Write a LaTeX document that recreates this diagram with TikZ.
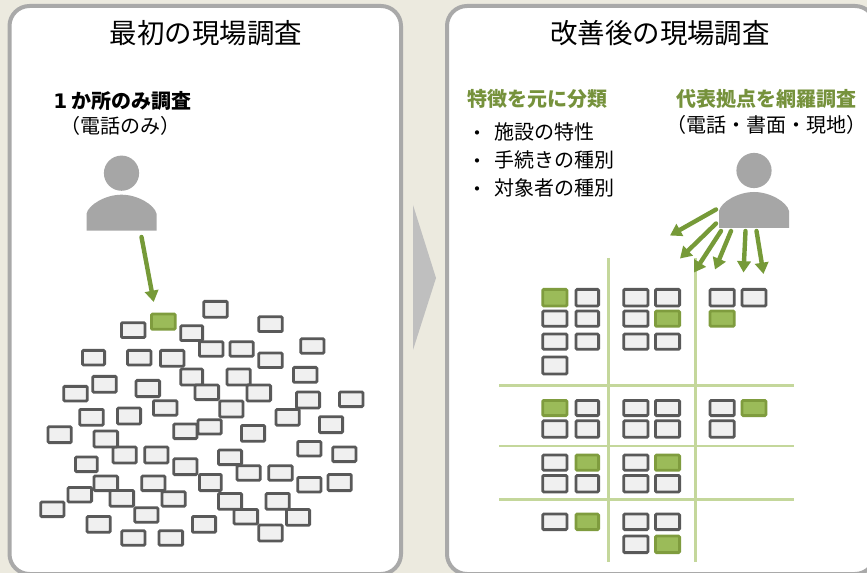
\documentclass[tikz,border=0pt]{standalone}
\usepackage{fontspec}
\usetikzlibrary{arrows.meta}
\setmainfont{Noto Sans CJK JP}
\newfontfamily\ltn{DejaVu Sans}
\definecolor{bgc}{HTML}{ECEADF}
\definecolor{panelc}{HTML}{A9A9A9}
\definecolor{chev}{HTML}{BFBFBF}
\definecolor{pers}{HTML}{A6A6A6}
\definecolor{arrc}{HTML}{769A38}
\definecolor{headc}{HTML}{76923C}
\definecolor{gridc}{HTML}{C4D79B}
\definecolor{boxf}{HTML}{F0F0F0}
\definecolor{boxd}{HTML}{595959}
\definecolor{grnf}{HTML}{9BBB59}
\definecolor{grnd}{HTML}{7F9C3E}
\tikzset{
  panel/.style={draw=panelc,line width=3pt,fill=white,rounded corners=15pt},
  gbox/.style={draw=boxd,fill=boxf,line width=2.1pt,rounded corners=0.8pt,inner sep=0pt,outer sep=0pt},
  sbox/.style={draw=grnd,fill=grnf,line width=2.1pt,rounded corners=0.8pt,inner sep=0pt,outer sep=0pt},
  gridl/.style={draw=gridc,line width=1.9pt},
  garrow/.style={draw=arrc,line width=3.3pt,line cap=round,-{Triangle[width=10pt,length=8.5pt]},shorten >=0pt},
  ttl/.style={font=\fontsize{20.6pt}{24pt}\selectfont,text=black,inner sep=0pt},
  txt/.style={font=\fontsize{15pt}{18pt}\selectfont,text=black,inner sep=0pt},
  grnhead/.style={font=\fontsize{15pt}{18pt}\selectfont\bfseries,text=headc,inner sep=0pt},
  pics/person/.style={code={
    \fill[pers] (0,-57.5) circle (17.6);
    \fill[pers] (-35,0) -- (-35,-17) .. controls (-33,-26) and (-16,-36) .. (0,-36)
      .. controls (16,-36) and (33,-26) .. (35,-17) -- (35,0) -- cycle;
  }}
}
\begin{document}
\begin{tikzpicture}[x=0.75pt,y=-0.75pt]
\useasboundingbox (0,0) rectangle (867,573);
\fill[bgc] (0,0) rectangle (867,573);
\begin{scope}
\clip (0,0) rectangle (867,573);
\draw[panel] (9.5,6) rectangle (401,574);
\draw[panel] (447,6) rectangle (875,574);
\end{scope}
\fill[chev] (413,205) -- (436,278) -- (413,350) -- cycle;

\node[ttl] (t1) at (206,33) {最初の現場調査};
\node[ttl] (t2) at (660,33) {改善後の現場調査};

\node[txt,font=\fontsize{15pt}{18pt}\selectfont\bfseries] (h1) at (122.5,101) {{\ltn 1} か所のみ調査};
\node[txt] (s1) at (120,126) {\makebox[15pt][r]{（}電話のみ\makebox[15pt][l]{）}};
\node[grnhead] (h2) at (537.5,99) {特徴を元に分類};
\node[grnhead] (h3) at (766.7,99) {代表拠点を網羅調査};
\node[txt] (s2) at (766.7,125) {\makebox[15pt][r]{（}電話・書面・現地\makebox[15pt][l]{）}};
\node[txt] (d1) at (477,135.5) {・};
\node[txt,anchor=west] (l1) at (494,131.5) {施設の特性};
\node[txt] (d2) at (477,163.5) {・};
\node[txt,anchor=west] (l2) at (494,159.5) {手続きの種別};
\node[txt] (d3) at (477,192) {・};
\node[txt,anchor=west] (l3) at (494,188) {対象者の種別};

\pic at (121.5,230.7) {person};
\pic at (754,228) {person};

% left cloud of boxes (coordinates read at 3x, offset y 280)
\newcommand{\lbox}[6]{%
  \node[#1,minimum width={(#4-#2)*0.25pt-2.1pt},minimum height={(#5-#3)*0.25pt-2.1pt}] (#6)
    at ({(#2+#4)/6},{280+(#3+#5)/6}) {};}
\lbox{gbox}{607}{60}{686}{116}{a1}
\lbox{gbox}{360}{124}{439}{177}{a3}
\lbox{gbox}{772}{106}{851}{159}{a4}
\lbox{gbox}{538}{133}{612}{186}{a5}
\lbox{gbox}{594}{181}{673}{233}{a6}
\lbox{gbox}{686}{181}{764}{233}{a7}
\lbox{gbox}{898}{172}{976}{224}{a8}
\lbox{gbox}{243}{207}{318}{259}{a9}
\lbox{gbox}{378}{207}{457}{259}{a10}
\lbox{gbox}{477}{207}{556}{263}{a11}
\lbox{gbox}{772}{215}{851}{267}{a12}
\lbox{gbox}{538}{263}{612}{319}{a13}
\lbox{gbox}{677}{263}{755}{319}{a14}
\lbox{gbox}{876}{258}{955}{311}{a15}
\lbox{gbox}{274}{285}{353}{341}{a16}
\lbox{gbox}{187}{315}{266}{367}{a17}
\lbox{gbox}{404}{297}{483}{354}{a18}
\lbox{gbox}{581}{311}{660}{363}{a19}
\lbox{gbox}{737}{311}{816}{367}{a20}
\lbox{gbox}{824}{384}{902}{440}{a27}
\lbox{gbox}{885}{332}{963}{388}{a21}
\lbox{gbox}{1014}{332}{1093}{384}{a22}
\lbox{gbox}{456}{358}{535}{410}{a23}
\lbox{gbox}{655}{359}{733}{415}{a24}
\lbox{gbox}{235}{384}{314}{440}{a25}
\lbox{gbox}{348}{380}{426}{436}{a26}
\lbox{gbox}{954}{406}{1032}{462}{a28}
\lbox{gbox}{517}{428}{595}{480}{a30}
\lbox{gbox}{590}{415}{668}{466}{a29}
\lbox{gbox}{720}{432}{798}{488}{a31}
\lbox{gbox}{140}{436}{218}{492}{a32}
\lbox{gbox}{335}{497}{413}{553}{a35}
\lbox{gbox}{278}{449}{357}{505}{a33}
\lbox{gbox}{889}{480}{967}{532}{a34}
\lbox{gbox}{430}{497}{508}{553}{a36}
\lbox{gbox}{994}{497}{1072}{549}{a37}
\lbox{gbox}{651}{506}{729}{558}{a38}
\lbox{gbox}{517}{532}{595}{588}{a39}
\lbox{gbox}{222}{527}{296}{579}{a40}
\lbox{gbox}{707}{553}{785}{605}{a41}
\lbox{gbox}{802}{553}{881}{605}{a42}
\lbox{gbox}{200}{618}{279}{670}{a48}
\lbox{gbox}{278}{584}{357}{636}{a43}
\lbox{gbox}{421}{584}{499}{636}{a44}
\lbox{gbox}{594}{579}{668}{636}{a45}
\lbox{gbox}{889}{588}{967}{640}{a46}
\lbox{gbox}{980}{579}{1058}{636}{a47}
\lbox{gbox}{326}{627}{405}{683}{a49}
\lbox{gbox}{482}{631}{560}{683}{a50}
\lbox{gbox}{698}{684}{777}{736}{a55}
\lbox{gbox}{651}{636}{729}{692}{a51}
\lbox{gbox}{794}{636}{872}{692}{a52}
\lbox{gbox}{118}{662}{196}{714}{a53}
\lbox{gbox}{400}{679}{478}{731}{a54}
\lbox{gbox}{855}{684}{933}{740}{a56}
\lbox{gbox}{257}{705}{335}{761}{a57}
\lbox{gbox}{573}{705}{651}{761}{a58}
\lbox{gbox}{772}{731}{851}{787}{a59}
\lbox{gbox}{361}{748}{439}{800}{a60}
\lbox{gbox}{473}{748}{552}{800}{a61}
\lbox{sbox}{450}{98}{530}{152}{a2}

% right grid
\coordinate (vt1) at (608.7,258); \coordinate (vb1) at (608.7,561.7);
\coordinate (vt2) at (695.3,258); \coordinate (vb2) at (695.3,561.7);
\coordinate (hl1) at (499,385.7); \coordinate (hr1) at (794,385.7);
\coordinate (hl2) at (499,446);   \coordinate (hr2) at (794,446);
\coordinate (hl3) at (499,499.3); \coordinate (hr3) at (794,499.3);
\draw[gridl] (hl1) -- (hr1);
\draw[gridl] (hl2) -- (hr2);
\draw[gridl] (hl3) -- (hr3);
\draw[gridl] (vt1) -- (vb1);
\draw[gridl] (vt2) -- (vb2);

% right boxes: columns A..F in 3x crop coordinates, offset (490,280)
\newcommand{\rbox}[6]{%
  \node[#1,minimum width={(#4-#2)*0.25pt-2.1pt},minimum height={(#5-#3)*0.25pt-2.1pt}] (#6)
    at ({490+(#2+#4)/6},{280+(#3+#5)/6}) {};}
\rbox{sbox}{154}{24}{235}{82}{r1}
\rbox{gbox}{254}{24}{330}{82}{r2}
\rbox{gbox}{397}{24}{478}{82}{r3}
\rbox{gbox}{492}{24}{573}{82}{r4}
\rbox{gbox}{656}{24}{737}{82}{r5}
\rbox{gbox}{752}{24}{832}{82}{r6}
\rbox{gbox}{154}{89}{235}{143}{r7}
\rbox{gbox}{254}{89}{330}{143}{r8}
\rbox{gbox}{397}{89}{478}{143}{r9}
\rbox{sbox}{492}{89}{573}{143}{r10}
\rbox{sbox}{656}{89}{737}{143}{r11}
\rbox{gbox}{154}{158}{235}{212}{r12}
\rbox{gbox}{254}{158}{330}{212}{r13}
\rbox{gbox}{397}{158}{478}{212}{r14}
\rbox{gbox}{492}{158}{573}{212}{r15}
\rbox{gbox}{154}{227}{235}{286}{r16}
\rbox{sbox}{154}{357}{235}{411}{r17}
\rbox{gbox}{254}{357}{330}{411}{r18}
\rbox{gbox}{397}{357}{478}{411}{r19}
\rbox{gbox}{492}{357}{573}{411}{r20}
\rbox{gbox}{656}{357}{737}{411}{r21}
\rbox{sbox}{752}{357}{832}{411}{r22}
\rbox{gbox}{154}{418}{235}{476}{r23}
\rbox{gbox}{254}{418}{330}{476}{r24}
\rbox{gbox}{397}{418}{478}{476}{r25}
\rbox{gbox}{492}{418}{573}{476}{r26}
\rbox{gbox}{656}{418}{737}{476}{r27}
\rbox{gbox}{154}{521}{235}{575}{r28}
\rbox{sbox}{254}{521}{330}{575}{r29}
\rbox{gbox}{397}{521}{478}{575}{r30}
\rbox{sbox}{492}{521}{573}{575}{r31}
\rbox{gbox}{154}{582}{235}{640}{r32}
\rbox{gbox}{254}{582}{330}{640}{r33}
\rbox{gbox}{397}{582}{478}{640}{r34}
\rbox{gbox}{492}{582}{573}{640}{r35}
\rbox{gbox}{154}{698}{235}{753}{r36}
\rbox{sbox}{254}{698}{330}{753}{r37}
\rbox{gbox}{397}{698}{478}{753}{r38}
\rbox{gbox}{492}{698}{573}{753}{r39}
\rbox{gbox}{397}{764}{478}{822}{r40}
\rbox{sbox}{492}{764}{573}{822}{r41}

% arrows
\coordinate (pa) at (141.5,237); \coordinate (pat) at (153.7,302);
\draw[garrow] (pa) -- (pat);
\coordinate (b1) at (716,209.5); \coordinate (e1) at (670,235.5);
\coordinate (b2) at (716,223.5); \coordinate (e2) at (680,258.5);
\coordinate (b3) at (721,231);   \coordinate (e3) at (694,272.5);
\coordinate (b4) at (731,231);   \coordinate (e4) at (715,269.5);
\coordinate (b5) at (745.5,231); \coordinate (e5) at (743.5,272.5);
\coordinate (b6) at (756.5,231); \coordinate (e6) at (763.5,274);
\draw[garrow] (b1) -- (e1);
\draw[garrow] (b2) -- (e2);
\draw[garrow] (b3) -- (e3);
\draw[garrow] (b4) -- (e4);
\draw[garrow] (b5) -- (e5);
\draw[garrow] (b6) -- (e6);
\end{tikzpicture}
\end{document}
